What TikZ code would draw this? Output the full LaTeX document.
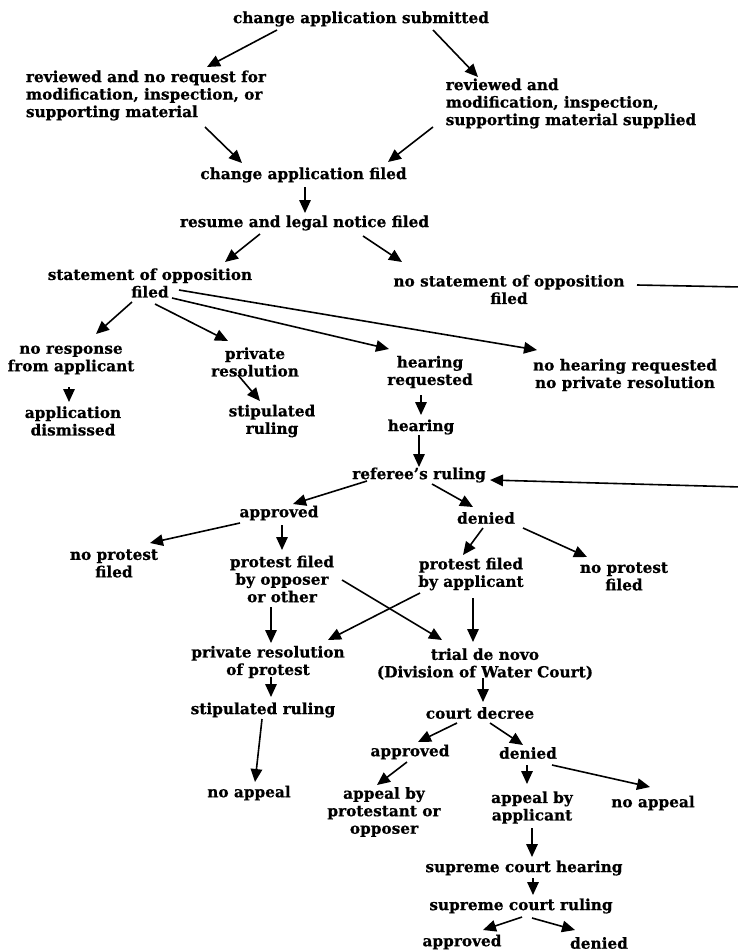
\documentclass[tikz,border=0pt]{standalone}
\usepackage{fontspec}
\setmainfont{DejaVu Serif}[BoldFeatures={FakeBold=0.6}]
\usetikzlibrary{arrows.meta}
\begin{document}
\begin{tikzpicture}[x=1pt,y=-1pt,
  lbl/.style={inner sep=0pt, align=center, font=\bfseries\fontsize{15.3}{17.5}\selectfont},
  lbll/.style={lbl, align=left},
  arr/.style={line width=1.6pt, -{Triangle[length=13pt,width=11.5pt]}},
  ln/.style={line width=1.3pt}]
\useasboundingbox (0,0) rectangle (737,951);
\fill[white] (0,0) rectangle (737,951);

\node[lbl]  (sub)      at (361,19)    {change application submitted};
\node[lbll] (revL)     at (146,95.5)  {reviewed and no request for\\modification, inspection, or\\supporting material};
\node[lbll] (revR)     at (571,103.5) {reviewed and\\modification, inspection,\\supporting material supplied};
\node[lbl]  (filed)    at (303.5,175) {change application filed};
\node[lbl]  (resume)   at (304.5,223) {resume and legal notice filed};
\node[lbl]  (stmt)     at (150,283)   {statement of opposition\\filed};
\node[lbl]  (nostmt)   at (509,289.5) {no statement of opposition\\filed};
\node[lbl]  (nores)    at (71,360)    {no response\\from applicant};
\node[lbl]  (privres)  at (255,362)   {private\\resolution};
\node[lbl]  (hreq)     at (430,372)   {hearing\\requested};
\node[lbl]  (nohear)   at (625,375)   {no hearing requested\\no private resolution};
\node[lbl]  (appdis)   at (73,421)    {application\\dismissed};
\node[lbl]  (stip1)    at (272,421)   {stipulated\\ruling};
\node[lbl]  (hearing)  at (421,427)   {hearing};
\node[lbl]  (referee)  at (419,475)   {referee's ruling};
\node[lbl]  (appr1)    at (279,513)   {approved};
\node[lbl]  (den1)     at (486,518)   {denied};
\node[lbl]  (noprot1)  at (114,563.5) {no protest\\filed};
\node[lbl]  (prot1)    at (282,579)   {protest filed\\by opposer\\or other};
\node[lbl]  (prot2)    at (471,574)   {protest filed\\by applicant};
\node[lbl]  (noprot2)  at (624,576.5) {no protest\\filed};
\node[lbl]  (privprot) at (268,662)   {private resolution\\of protest};
\node[lbl]  (trial)    at (485,664)   {trial de novo\\(Division of Water Court)};
\node[lbl]  (stip2)    at (263,710)   {stipulated ruling};
\node[lbl]  (decree)   at (480,713)   {court decree};
\node[lbl]  (appr2)    at (410,752)   {approved};
\node[lbl]  (den2)     at (528,753)   {denied};
\node[lbl]  (noapp1)   at (249,793)   {no appeal};
\node[lbl]  (appeal1)  at (384,812)   {appeal by\\protestant or\\opposer};
\node[lbl]  (appeal2)  at (532,807.5) {appeal by\\applicant};
\node[lbl]  (noapp2)   at (653,803)   {no appeal};
\node[lbl]  (sch)      at (524,868)   {supreme court hearing};
\node[lbl]  (scr)      at (521,906)   {supreme court ruling};
\node[lbl]  (appr3)    at (462,942)   {approved};
\node[lbl]  (den3)     at (599,943)   {denied};

\coordinate (rtop) at (741,287);
\coordinate (rbot) at (741,487);

\draw[arr] ([shift={(-84,11)}]sub.center) -- ([shift={(61,-28.5)}]revL.center);
\draw[arr] ([shift={(72,11)}]sub.center) -- ([shift={(-93,-26.5)}]revR.center);
\draw[arr] ([shift={(59,31.5)}]revL.center) -- ([shift={(-61.5,-12)}]filed.center);
\draw[arr] ([shift={(-138,23.5)}]revR.center) -- ([shift={(84.5,-13)}]filed.center);
\draw[arr] ([shift={(1.5,12)}]filed.center) -- ([shift={(0.5,-10)}]resume.center);
\draw[arr] ([shift={(-44.5,11)}]resume.center) -- ([shift={(75,-21)}]stmt.center);
\draw[arr] ([shift={(58.5,13)}]resume.center) -- ([shift={(-107,-27.5)}]nostmt.center);
\draw[arr] ([shift={(-18,19)}]stmt.center) -- ([shift={(25,-26)}]nores.center);
\draw[arr] ([shift={(5,21)}]stmt.center) -- ([shift={(-27,-21)}]privres.center);
\draw[arr] ([shift={(22,15)}]stmt.center) -- ([shift={(-41,-23)}]hreq.center);
\draw[arr] ([shift={(29,7)}]stmt.center) -- ([shift={(-88,-25)}]nohear.center);
\draw[arr] ([shift={(-2,27)}]nores.center) -- ([shift={(-4,-19)}]appdis.center);
\draw[arr] ([shift={(-17,13)}]privres.center) -- ([shift={(-12,-20)}]stip1.center);
\draw[arr] ([shift={(-9,23)}]hreq.center) -- ([shift={(0,-12)}]hearing.center);
\draw[arr] ([shift={(-2,8)}]hearing.center) -- ([shift={(0,-8)}]referee.center);
\draw[arr] ([shift={(128,-4.5)}]nostmt.center) -- (rtop) -- (rbot) -- ([shift={(71,5)}]referee.center);
\draw[arr] ([shift={(-52,6)}]referee.center) -- ([shift={(14,-9)}]appr1.center);
\draw[arr] ([shift={(13,9)}]referee.center) -- ([shift={(-13,-11)}]den1.center);
\draw[arr] ([shift={(-39,10)}]appr1.center) -- ([shift={(36,-20.5)}]noprot1.center);
\draw[arr] ([shift={(3,12)}]appr1.center) -- ([shift={(0,-29)}]prot1.center);
\draw[arr] ([shift={(-3,10)}]den1.center) -- ([shift={(-8,-19)}]prot2.center);
\draw[arr] ([shift={(37,10)}]den1.center) -- ([shift={(-37,-19.5)}]noprot2.center);
\draw[arr] ([shift={(60,1)}]prot1.center) -- ([shift={(-43,-24)}]trial.center);
\draw[arr] ([shift={(-51,19)}]prot2.center) -- ([shift={(60,-22)}]privprot.center);
\draw[arr] ([shift={(-11,28)}]prot1.center) -- ([shift={(3,-19)}]privprot.center);
\draw[arr] ([shift={(2,24)}]prot2.center) -- ([shift={(-12,-22)}]trial.center);
\draw[arr] ([shift={(3,15)}]privprot.center) -- ([shift={(8,-13)}]stip2.center);
\draw[arr] ([shift={(-2,14)}]trial.center) -- ([shift={(3,-11)}]decree.center);
\draw[arr] ([shift={(-1,9)}]stip2.center) -- ([shift={(6,-11)}]noapp1.center);
\draw[arr] ([shift={(-23,10)}]decree.center) -- ([shift={(8,-10)}]appr2.center);
\draw[arr] ([shift={(10,10)}]decree.center) -- ([shift={(-5,-8)}]den2.center);
\draw[arr] ([shift={(-3,10)}]appr2.center) -- ([shift={(-7,-27)}]appeal1.center);
\draw[arr] ([shift={(-1,12)}]den2.center) -- ([shift={(-5,-23.5)}]appeal2.center);
\draw[arr] ([shift={(24,12)}]den2.center) -- ([shift={(-3,-16)}]noapp2.center);
\draw[arr] ([shift={(0,20.5)}]appeal2.center) -- ([shift={(8,-11)}]sch.center);
\draw[arr] ([shift={(9,10)}]sch.center) -- ([shift={(12,-11)}]scr.center);
\draw[arr] ([shift={(1,11)}]scr.center) -- ([shift={(21,-12)}]appr3.center);
\draw[arr] ([shift={(11,12)}]scr.center) -- ([shift={(-24,-13)}]den3.center);
\end{tikzpicture}
\end{document}
